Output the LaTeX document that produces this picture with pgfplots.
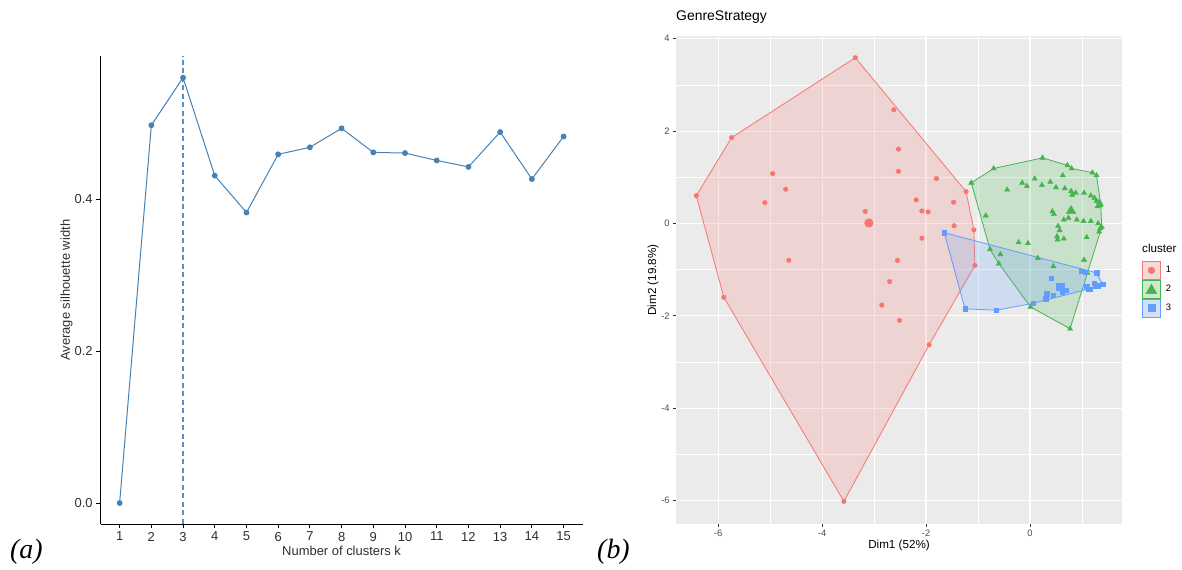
\documentclass[border=0pt]{standalone}
\usepackage{pgfplots}
\pgfplotsset{compat=1.18}
\usepackage{fontspec}
\setmainfont{Liberation Sans}
\newfontfamily\panelfont{Liberation Serif}

\definecolor{steel}{HTML}{4682B4}
\definecolor{refline}{HTML}{5B8FC8}
\definecolor{cA}{HTML}{F8766D}
\definecolor{cB}{HTML}{44B54C}
\definecolor{cC}{HTML}{619CFF}
\definecolor{panelbg}{HTML}{EBEBEB}
\definecolor{keybg}{HTML}{F2F2F2}
\definecolor{tickgray}{HTML}{4D4D4D}
\definecolor{tickmark}{HTML}{333333}

\begin{document}
\begin{tikzpicture}[x=1bp,y=1bp]
\path[use as bounding box] (0,0) rectangle (1182,570);

% ---------- (a) average silhouette width vs k ----------
\begin{axis}[
  at={(100.6bp,46bp)}, anchor=south west,
  scale only axis, width=482bp, height=467.6bp,
  xmin=0.4, xmax=15.6, ymin=-0.0276, ymax=0.5876,
  axis x line*=bottom, axis y line*=left,
  axis line style={black, line width=0.8bp},
  xtick={1,2,3,4,5,6,7,8,9,10,11,12,13,14,15},
  xticklabels={1,2,3,4,5,6,7,8,9,10,11,12,13,14,15},
  ytick={0,0.2,0.4}, yticklabels={0.0,0.2,0.4},
  tick align=outside, major tick length=4.5bp,
  tick style={black, line width=0.8bp},
  ticklabel style={font=\fontsize{13}{13}\selectfont, text=black!82},
  xlabel={Number of clusters k},
  ylabel={Average silhouette width},
  xlabel style={at={(axis description cs:0.5,-0.0585)}, anchor=center,
                font=\fontsize{13}{13}\selectfont, text=black!82},
  ylabel style={at={(axis description cs:-0.0705,0.5)}, anchor=center, rotate=0,
                font=\fontsize{13}{13}\selectfont, text=black!82},
  clip=false,
]
% suggested number of clusters
\addplot[color=refline, line width=1.2bp, line cap=butt, dash pattern=on 5bp off 3.5bp]
  coordinates {(3,-0.0276) (3,0.5876)};
\addplot[color=steel, line width=1bp, mark=*, mark size=2.4bp,
         mark options={fill=steel, draw=steel, solid}]
  coordinates {
  (1,0.0000) (2,0.4970) (3,0.5596) (4,0.4307) (5,0.3822)
  (6,0.4587) (7,0.4680) (8,0.4929) (9,0.4613) (10,0.4604)
  (11,0.4507) (12,0.4422) (13,0.4880) (14,0.4262) (15,0.4822)};
\end{axis}

% ---------- (b) cluster plot on the first two dimensions ----------
\begin{axis}[
  at={(676bp,46bp)}, anchor=south west,
  scale only axis, width=446bp, height=488bp,
  xmin=-6.81, xmax=1.77, ymin=-6.51, ymax=4.06,
  axis background/.style={fill=panelbg},
  axis line style={draw=none},
  grid=both,
  major grid style={white, line width=1.1bp},
  minor grid style={white, line width=0.55bp},
  xtick={-6,-4,-2,0}, xticklabels={-6,-4,-2,0},
  minor xtick={-5,-3,-1,1},
  ytick={-6,-4,-2,0,2,4}, yticklabels={-6,-4,-2,0,2,4},
  minor ytick={-5,-3,-1,1,3},
  xtick pos=bottom, ytick pos=left,
  tick align=outside, major tick length=2.8bp, minor tick length=0bp,
  tick style={tickmark, line width=0.6bp},
  ticklabel style={font=\fontsize{9.4}{9.4}\selectfont, text=tickgray},
  xlabel={Dim1 (52\%)},
  ylabel={Dim2 (19.8\%)},
  xlabel style={at={(axis description cs:0.5,-0.045)}, anchor=center,
                font=\fontsize{11.7}{11.7}\selectfont},
  ylabel style={at={(axis description cs:-0.0516,0.5)}, anchor=center, rotate=0,
                font=\fontsize{11.7}{11.7}\selectfont},
  title={GenreStrategy},
  title style={at={(axis description cs:0,1)}, anchor=base west, yshift=10bp,
               font=\fontsize{14}{14}\selectfont, inner xsep=0pt},
  legend style={at={(axis description cs:1.0448,0.539)}, anchor=north west,
                draw=none, fill=none, inner sep=0pt, outer sep=0pt,
                row sep=0pt, column sep=0pt,
                font=\fontsize{9.4}{9.4}\selectfont,
                nodes={inner ysep=0pt, inner xsep=5bp, minimum height=18.4bp}},
  legend cell align=left,
  clip=false,
]
% convex hulls
\addplot[forget plot, draw=cA, line width=0.8bp, fill=cA, fill opacity=0.2]
  coordinates {(-6.42,0.60) (-5.74,1.86) (-3.36,3.59) (-1.23,0.69) (-1.08,-0.14)
               (-1.06,-0.91) (-1.94,-2.63) (-3.58,-6.02) (-5.89,-1.60) (-6.42,0.60)};
\addplot[forget plot, draw=cB, line width=0.8bp, fill=cB, fill opacity=0.2]
  coordinates {(-1.13,0.88) (-0.70,1.19) (0.24,1.42) (0.72,1.26) (0.80,1.19)
               (1.20,1.10) (1.28,1.04) (1.36,0.42) (1.38,-0.08) (0.77,-2.28)
               (0.01,-1.81) (-0.60,-0.87) (-0.77,-0.56) (-1.13,0.88)};
\addplot[forget plot, draw=cC, line width=0.8bp, fill=cC, fill opacity=0.2]
  coordinates {(-1.65,-0.20) (1.28,-1.07) (1.40,-1.32) (1.30,-1.35) (1.13,-1.42)
               (0.06,-1.73) (-0.65,-1.88) (-1.25,-1.85) (-1.65,-0.20)};
% cluster 1 observations
\addplot[forget plot, only marks, mark=*, mark size=2.3bp, color=cA]
  coordinates {(-6.42,0.60) (-5.74,1.86) (-3.36,3.59) (-1.23,0.69) (-1.08,-0.14)
               (-1.06,-0.91) (-1.94,-2.63) (-3.58,-6.02) (-5.89,-1.60)
               (-2.62,2.46) (-2.53,1.61) (-2.53,1.13) (-1.80,0.97) (-4.95,1.08)
               (-4.70,0.74) (-5.10,0.45) (-2.19,0.51) (-1.47,0.46) (-3.17,0.26)
               (-2.08,0.27) (-1.96,0.25) (-1.46,-0.05) (-2.08,-0.32) (-4.64,-0.80)
               (-2.55,-0.80) (-2.70,-1.26) (-2.85,-1.77) (-2.51,-2.10)};
% cluster 2 observations
\addplot[forget plot, only marks, mark=triangle*, mark size=3bp, color=cB]
  coordinates {(-1.13,0.88) (-0.70,1.19) (0.24,1.42) (0.72,1.26) (0.80,1.19)
               (1.20,1.10) (1.28,1.04) (1.36,0.42) (1.38,-0.08) (0.77,-2.28)
               (0.01,-1.81) (-0.60,-0.87) (-0.77,-0.56)
               (-0.44,0.73) (-0.15,0.88) (-0.06,0.81) (0.09,0.97) (0.23,0.83)
               (0.39,0.90) (0.50,0.78) (0.63,1.04) (0.67,0.76) (0.79,0.70)
               (0.81,0.62) (0.88,0.66) (1.04,0.66) (1.17,0.60) (1.24,0.55)
               (1.28,0.49) (1.33,0.46) (1.30,0.37) (1.35,0.39) (-0.85,0.17)
               (0.43,0.26) (0.46,0.20) (0.65,0.08) (0.74,0.12) (0.90,0.08)
               (1.03,0.05) (1.17,0.05) (1.31,0.00) (1.35,-0.11) (1.33,-0.18)
               (0.54,-0.06) (0.57,-0.15) (0.52,-0.28) (0.53,-0.35) (0.65,-0.33)
               (1.09,-0.30) (-0.22,-0.41) (-0.04,-0.43) (-0.57,-0.67) (0.15,-0.75)
               (0.45,-0.93) (1.04,-0.79) (1.10,-1.07)};
% cluster 3 observations
\addplot[forget plot, only marks, mark=square*, mark size=2.2bp, color=cC]
  coordinates {(-1.65,-0.20) (1.28,-1.07) (1.40,-1.32) (1.30,-1.35) (1.13,-1.42)
               (0.06,-1.73) (-0.65,-1.88) (-1.25,-1.85)
               (0.99,-1.03) (0.41,-1.19) (0.69,-1.45) (0.62,-1.49) (0.32,-1.52)
               (0.45,-1.56) (0.30,-1.63) (1.23,-1.29) (1.09,-1.37) (1.16,-1.42)
               (1.06,-1.05) (1.26,-1.35)};
% cluster centres
\addplot[forget plot, only marks, mark=*, mark size=4.3bp, color=cA]
  coordinates {(-3.10,0.01)};
\addplot[forget plot, only marks, mark=triangle*, mark size=5.5bp, color=cB]
  coordinates {(0.79,0.27)};
\addplot[forget plot, only marks, mark=square*, mark size=3.8bp, color=cC]
  coordinates {(0.58,-1.37)};
% legend keys
\addlegendimage{legend image code/.code={
  \draw[draw=cA, line width=0.8bp, fill=cA!20!keybg] (0bp,-9bp) rectangle (18bp,9bp);
  \fill[cA] (9bp,0bp) circle (3.4bp);}}
\addlegendentry{1}
\addlegendimage{legend image code/.code={
  \draw[draw=cB, line width=0.8bp, fill=cB!20!keybg] (0bp,-9bp) rectangle (18bp,9bp);
  \fill[cB] (9bp,5bp) -- (14.5bp,-4.5bp) -- (3.5bp,-4.5bp) -- cycle;}}
\addlegendentry{2}
\addlegendimage{legend image code/.code={
  \draw[draw=cC, line width=0.8bp, fill=cC!20!keybg] (0bp,-9bp) rectangle (18bp,9bp);
  \fill[cC] (5.5bp,-3.5bp) rectangle (12.5bp,3.5bp);}}
\addlegendentry{3}
\node[anchor=base west, inner sep=0pt, font=\fontsize{11.7}{11.7}\selectfont]
  at (axis description cs:1.0448,0.539) [yshift=8bp] {cluster};
\end{axis}

% panel tags
\node[anchor=base west, inner sep=0pt, font=\panelfont\itshape\fontsize{28}{28}\selectfont]
  at (10bp,11bp) {(a)};
\node[anchor=base west, inner sep=0pt, font=\panelfont\itshape\fontsize{28}{28}\selectfont]
  at (597bp,11bp) {(b)};
\end{tikzpicture}
\end{document}
